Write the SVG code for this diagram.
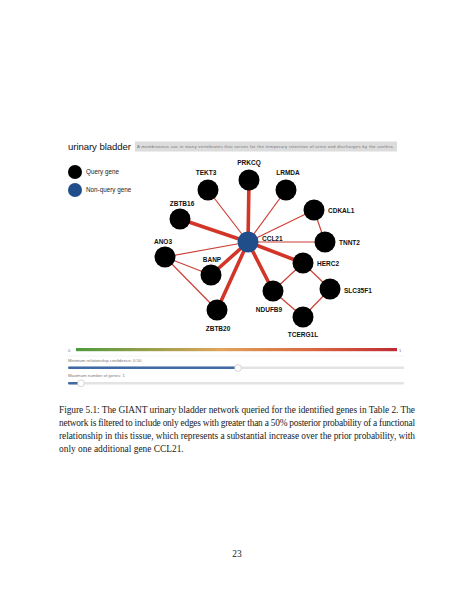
<svg xmlns="http://www.w3.org/2000/svg" width="474" height="613" viewBox="0 0 474 613">
<style>
.lbl{font-family:"Liberation Sans",Arial,sans-serif;font-weight:bold;font-size:6.5px;fill:#111}
.q{fill:#000}
.nq{fill:#1f4e8a}
.thick{stroke:#d23628;stroke-width:3.6;stroke-linecap:round}
.thin{stroke:#cc4036;stroke-width:1.2}
.small{font-family:"Liberation Sans",Arial,sans-serif;font-size:4.3px;fill:#777}
.cap{font-family:"Liberation Serif","DejaVu Serif",serif;font-size:9.4px;fill:#222}
.leg{font-family:"Liberation Sans",Arial,sans-serif;font-size:6.3px;fill:#222}
</style>
<defs>
<linearGradient id="grad" x1="0" x2="1" y1="0" y2="0">
<stop offset="0" stop-color="#4e9a3c"/>
<stop offset="0.45" stop-color="#e0a45a"/>
<stop offset="0.75" stop-color="#d9643f"/>
<stop offset="1" stop-color="#c02a34"/>
</linearGradient>
</defs>
<rect width="474" height="613" fill="#fff"/>
<g id="header">
<text x="68" y="150" font-family="Liberation Sans,Arial,sans-serif" font-size="9.6" fill="#111" textLength="63">urinary bladder</text>
<rect x="135" y="141.5" width="262" height="10" fill="#dcdcdc"/>
<text x="137" y="148" class="small" textLength="257">A membranous sac in many vertebrates that serves for the temporary retention of urine and discharges by the urethra.</text>
</g>
<g id="legend">
<circle cx="75" cy="172" r="7" class="q"/>
<text x="86" y="174" class="leg">Query gene</text>
<circle cx="75" cy="190" r="7" class="nq"/>
<text x="86" y="192" class="leg">Non-query gene</text>
</g>
<g id="connectors">
<line x1="248" y1="242" x2="249" y2="180" class="thick"/>
<line x1="248" y1="242" x2="208" y2="190" class="thin"/>
<line x1="248" y1="242" x2="286" y2="190" class="thin"/>
<line x1="248" y1="242" x2="180" y2="219" class="thick"/>
<line x1="248" y1="242" x2="314" y2="210" class="thin"/>
<line x1="248" y1="242" x2="325" y2="242" class="thin"/>
<line x1="248" y1="242" x2="165" y2="257" class="thin"/>
<line x1="248" y1="242" x2="211" y2="275" class="thick"/>
<line x1="248" y1="242" x2="217" y2="310" class="thick"/>
<line x1="248" y1="242" x2="273" y2="291" class="thick"/>
<line x1="248" y1="242" x2="303" y2="263" class="thick"/>
<line x1="314" y1="210" x2="325" y2="242" class="thin"/>
<line x1="165" y1="257" x2="211" y2="275" class="thin"/>
<line x1="165" y1="257" x2="217" y2="310" class="thin"/>
<line x1="303" y1="263" x2="273" y2="291" class="thin"/>
<line x1="303" y1="263" x2="330" y2="289" class="thin"/>
<line x1="273" y1="291" x2="303" y2="317" class="thin"/>
<line x1="330" y1="289" x2="303" y2="317" class="thin"/>
</g>
<g id="n-PRKCQ"><circle cx="249" cy="180" r="10.5" class="q"/><text x="249" y="165" class="lbl" text-anchor="middle">PRKCQ</text></g>
<g id="n-TEKT3"><circle cx="208" cy="190" r="10.5" class="q"/><text x="206" y="175" class="lbl" text-anchor="middle">TEKT3</text></g>
<g id="n-LRMDA"><circle cx="286" cy="190" r="10.5" class="q"/><text x="288" y="175" class="lbl" text-anchor="middle">LRMDA</text></g>
<g id="n-ZBTB16"><circle cx="180" cy="219" r="10.5" class="q"/><text x="182" y="206" class="lbl" text-anchor="middle">ZBTB16</text></g>
<g id="n-CDKAL1"><circle cx="314" cy="210" r="10.5" class="q"/><text x="328" y="213" class="lbl">CDKAL1</text></g>
<g id="n-TNNT2"><circle cx="325" cy="242" r="10.5" class="q"/><text x="339" y="245" class="lbl">TNNT2</text></g>
<g id="n-CCL21"><circle cx="248" cy="242" r="10.5" class="nq"/><text x="262" y="241" class="lbl">CCL21</text></g>
<g id="n-ANO3"><circle cx="165" cy="257" r="10.5" class="q"/><text x="163" y="244" class="lbl" text-anchor="middle">ANO3</text></g>
<g id="n-BANP"><circle cx="211" cy="275" r="10.5" class="q"/><text x="212" y="262" class="lbl" text-anchor="middle">BANP</text></g>
<g id="n-HERC2"><circle cx="303" cy="263" r="10.5" class="q"/><text x="317" y="266" class="lbl">HERC2</text></g>
<g id="n-SLC35F1"><circle cx="330" cy="289" r="10.5" class="q"/><text x="344" y="293" class="lbl">SLC35F1</text></g>
<g id="n-NDUFB9"><circle cx="273" cy="291" r="10.5" class="q"/><text x="269" y="312" class="lbl" text-anchor="middle">NDUFB9</text></g>
<g id="n-ZBTB20"><circle cx="217" cy="310" r="10.5" class="q"/><text x="218" y="331" class="lbl" text-anchor="middle">ZBTB20</text></g>
<g id="n-TCERG1L"><circle cx="303" cy="317" r="10.5" class="q"/><text x="303" y="337" class="lbl" text-anchor="middle">TCERG1L</text></g>
<g id="controls">
<text x="68" y="351.5" class="small" font-size="4.5">0</text>
<rect x="76" y="348" width="321" height="3.2" fill="url(#grad)"/>
<text x="399" y="351.5" class="small" font-size="4.5" fill="#333">1</text>
<line x1="68" y1="356" x2="404" y2="356" stroke="#eee" stroke-width="0.6"/>
<text x="68" y="362" class="small">Minimum relationship confidence: 0.50</text>
<rect x="68" y="366.5" width="336" height="2.6" rx="1.3" fill="#e3e3e3"/>
<rect x="68" y="366.5" width="170" height="2.6" rx="1.3" fill="#3f6aa6"/>
<circle cx="238" cy="368" r="3.4" fill="#fff" stroke="#bbb" stroke-width="0.6"/>
<text x="68" y="377" class="small">Maximum number of genes: 1</text>
<rect x="68" y="382" width="336" height="2.6" rx="1.3" fill="#e3e3e3"/>
<rect x="68" y="382" width="13" height="2.6" rx="1.3" fill="#3f6aa6"/>
<circle cx="81" cy="383.3" r="3.4" fill="#fff" stroke="#bbb" stroke-width="0.6"/>
</g>
<g id="caption">
<text x="59" y="413" class="cap" textLength="356" lengthAdjust="spacing">Figure 5.1: The GIANT urinary bladder network queried for the identified genes in Table 2. The</text>
<text x="59" y="426" class="cap" textLength="356" lengthAdjust="spacing">network is filtered to include only edges with greater than a 50% posterior probability of a functional</text>
<text x="59" y="439" class="cap" textLength="356" lengthAdjust="spacing">relationship in this tissue, which represents a substantial increase over the prior probability, with</text>
<text x="59" y="452" class="cap">only one additional gene CCL21.</text>
<text x="237" y="557" class="cap" text-anchor="middle">23</text>
</g>
</svg>
